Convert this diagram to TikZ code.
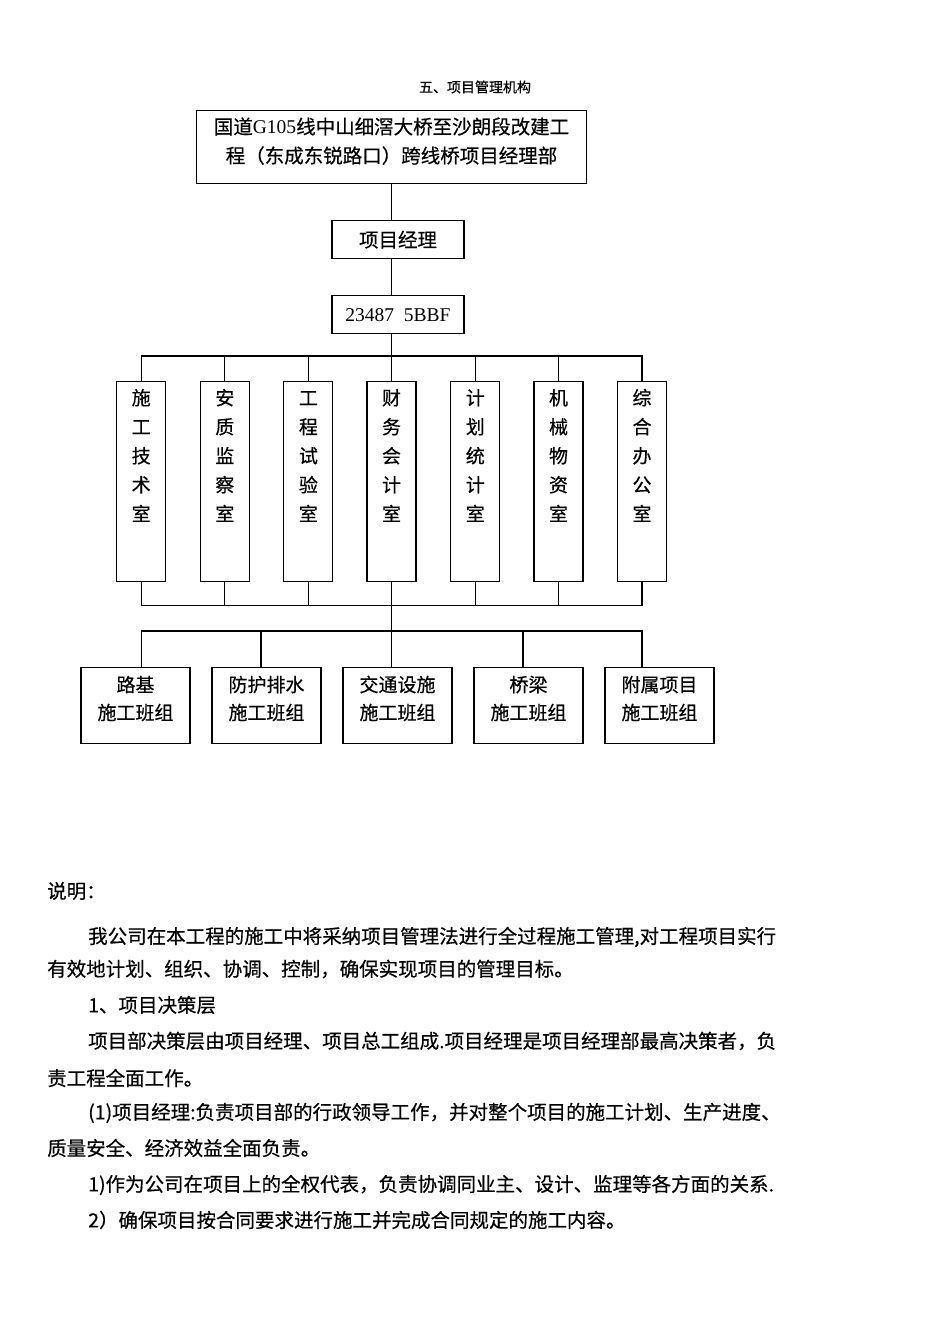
\documentclass[tikz,border=0pt]{standalone}
\usepackage{fontspec}
\setmainfont{Noto Sans CJK SC}[FakeBold=0.5]
\newfontfamily\latin{Liberation Serif}
\usetikzlibrary{positioning}
\tikzset{
  hd/.style={draw, line width=1.1pt, inner sep=0pt, align=center, font=\fontsize{19.5}{29}\selectfont},
  dept/.style={draw, line width=1.1pt, inner sep=0pt, anchor=north, minimum width=49pt, text height=139.4pt, text depth=60.6pt, align=center, font=\fontsize{19}{29}\selectfont},
  team/.style={draw, line width=1.1pt, inner sep=0pt, anchor=north, minimum width=109pt, text height=52.2pt, text depth=23.8pt, align=center, font=\fontsize{19}{28}\selectfont},
  body/.style={anchor=west, inner sep=0pt, font=\fontsize{19.5}{24}\selectfont},
  ln/.style={line width=1.1pt},
}
\begin{document}
\begin{tikzpicture}[x=1pt, y=-1pt]
\useasboundingbox (0,0) rectangle (950,1344);
\node[font=\fontsize{14}{16}\selectfont] (ttl) at (475,87) {五、项目管理机构};
\node[hd, anchor=north, minimum width=390pt, text height=52.9pt, text depth=20.6pt] (hq) at (391.5,109.5)
  {国道{\latin G105}线中山细滘大桥至沙朗段改建工\\程（东成东锐路口）跨线桥项目经理部};
\node[hd, minimum width=132pt, minimum height=38pt, below=36pt of hq, xshift=6.5pt] (pm) {项目经理};
\node[hd, minimum width=132pt, minimum height=38pt, below=36pt of pm] (zg) {\latin 23487\ \ 5BBF};
% departments
\node[dept] (d1) at (141.2,381) {施\\工\\技\\术\\室};
\node[dept] (d2) at (224.8,381) {安\\质\\监\\察\\室};
\node[dept] (d3) at (308.4,381) {工\\程\\试\\验\\室};
\node[dept] (d4) at (391.5,381) {财\\务\\会\\计\\室};
\node[dept] (d5) at (475.3,381) {计\\划\\统\\计\\室};
\node[dept] (d6) at (558.5,381) {机\\械\\物\\资\\室};
\node[dept] (d7) at (642,381) {综\\合\\办\\公\\室};
% teams
\node[team] (t1) at (135.5,667) {路基\\施工班组};
\node[team] (t2) at (266.5,667) {防护排水\\施工班组};
\node[team] (t3) at (397.5,667) {交通设施\\施工班组};
\node[team] (t4) at (528.5,667) {桥梁\\施工班组};
\node[team] (t5) at (659.5,667) {附属项目\\施工班组};
\coordinate (busA) at (0,356);
\coordinate (busB) at (0,605.5);
\coordinate (busC) at (0,631);
\coordinate (c2) at (261,631);
\coordinate (c4) at (523,631);
\draw[ln] (hq.south) -- (hq.south |- pm.north);
\draw[ln] (hq.south |- pm.south) -- (hq.south |- zg.north);
\draw[ln] (hq.south |- zg.south) -- (d4.north);
\draw[ln] (d1.north) -- (d1.north |- busA) -- (d7.north |- busA) -- (d7.north);
\draw[ln] (d2.north) -- (d2.north |- busA);
\draw[ln] (d3.north) -- (d3.north |- busA);
\draw[ln] (d5.north) -- (d5.north |- busA);
\draw[ln] (d6.north) -- (d6.north |- busA);
\draw[ln] (d1.south) -- (d1.south |- busB) -- (d7.south |- busB) -- (d7.south);
\draw[ln] (d2.south) -- (d2.south |- busB);
\draw[ln] (d3.south) -- (d3.south |- busB);
\draw[ln] (d5.south) -- (d5.south |- busB);
\draw[ln] (d6.south) -- (d6.south |- busB);
\draw[ln] (d4.south) -- (d4.south |- t3.north);
\draw[ln] (t1.north -| d1.south) -- (d1.south |- busC) -- (d7.south |- busC) -- (t5.north -| d7.south);
\draw[ln] (c2) -- (c2 |- t2.north);
\draw[ln] (c4) -- (c4 |- t4.north);
% notes
\node[body] (sm) at (47,891) {说明：};
\node[body] (p1) at (88,937) {我公司在本工程的施工中将采纳项目管理法进行全过程施工管理,对工程项目实行};
\node[body] (p2) at (47,969) {有效地计划、组织、协调、控制，确保实现项目的管理目标。};
\node[body] (p3) at (88,1005) {1、项目决策层};
\node[body] (p4) at (88,1041) {项目部决策层由项目经理、项目总工组成.项目经理是项目经理部最高决策者，负};
\node[body] (p5) at (47,1078) {责工程全面工作。};
\node[body] (p6) at (88,1113) {(1)项目经理:负责项目部的行政领导工作，并对整个项目的施工计划、生产进度、};
\node[body] (p7) at (47,1148) {质量安全、经济效益全面负责。};
\node[body] (p8) at (88,1185) {1)作为公司在项目上的全权代表，负责协调同业主、设计、监理等各方面的关系.};
\node[body] (p9) at (88,1220) {2）确保项目按合同要求进行施工并完成合同规定的施工内容。};
\end{tikzpicture}
\end{document}
